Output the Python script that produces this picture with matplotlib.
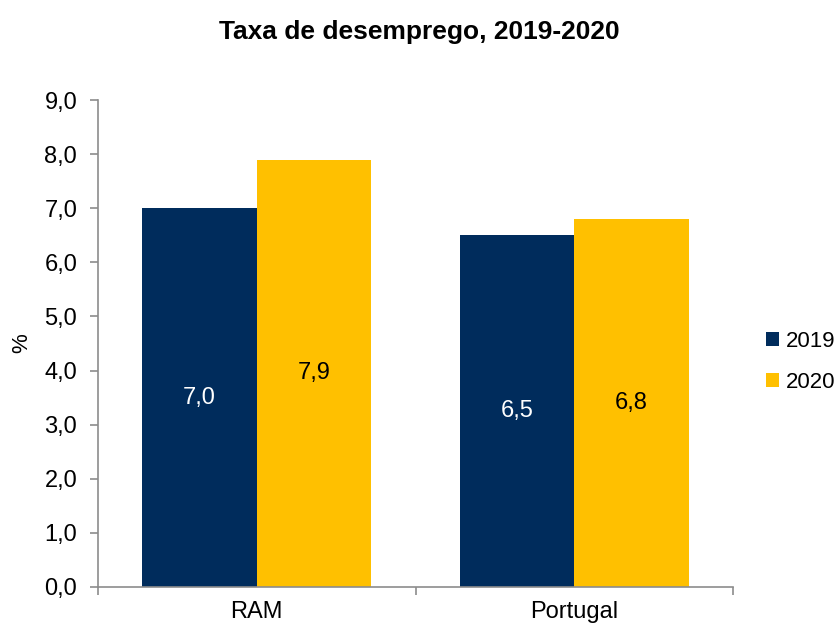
import matplotlib.pyplot as plt
import numpy as np

plt.rcParams['font.family'] = ['Liberation Sans', 'DejaVu Sans']

categories = ['RAM', 'Portugal']
years = ['2019', '2020']
values_2019 = [7.0, 6.5]
values_2020 = [7.9, 6.8]

navy = '#002C5C'
gold = '#FFC000'
grey = '#8C8C8C'

fig = plt.figure(figsize=(8.39, 6.24), dpi=100)
ax = fig.add_axes([0.1168, 0.0593, 0.7569, 0.7804])

x = np.arange(len(categories)) + 0.5
w = 0.36
b1 = ax.bar(x - w / 2, values_2019, w, color=navy, label=years[0])
b2 = ax.bar(x + w / 2, values_2020, w, color=gold, label=years[1])

for bars, col in ((b1, 'white'), (b2, 'black')):
    for r in bars:
        h = r.get_height()
        ax.text(r.get_x() + r.get_width() / 2, h / 2, f'{h:.1f}'.replace('.', ','),
                ha='center', va='center', color=col, fontsize=17)

ax.set_xlim(0, 2)
ax.set_ylim(0, 9)
ax.set_yticks(np.arange(0, 9.1, 1))
ax.set_yticklabels([f'{v:.1f}'.replace('.', ',') for v in np.arange(0, 9.1, 1)], fontsize=17)
ax.set_xticks([0, 1, 2])
ax.set_xticklabels([])
ax.set_xticks(x, minor=True)
ax.set_xticklabels(categories, minor=True, fontsize=17)
ax.tick_params(axis='x', which='minor', length=0, pad=10)
ax.tick_params(axis='both', which='major', length=6, color=grey, width=1.2)
ax.tick_params(axis='y', pad=9)

for s in ['top', 'right']:
    ax.spines[s].set_visible(False)
for s in ['left', 'bottom']:
    ax.spines[s].set_color(grey)
    ax.spines[s].set_linewidth(1.2)

ax.set_ylabel('%', fontsize=16, labelpad=9)

fig.text(0.5, 0.949, 'Taxa de desemprego, 2019-2020', ha='center', va='center',
         fontsize=19, fontweight='bold')

fig.legend(handles=[b1, b2], labels=years, loc='center left',
           bbox_to_anchor=(0.913, 0.42), frameon=False, fontsize=16,
           handlelength=0.6, handleheight=0.6, handletextpad=0.3,
           labelspacing=0.9, borderaxespad=0, borderpad=0)

fig.savefig('out.png', dpi=100)
